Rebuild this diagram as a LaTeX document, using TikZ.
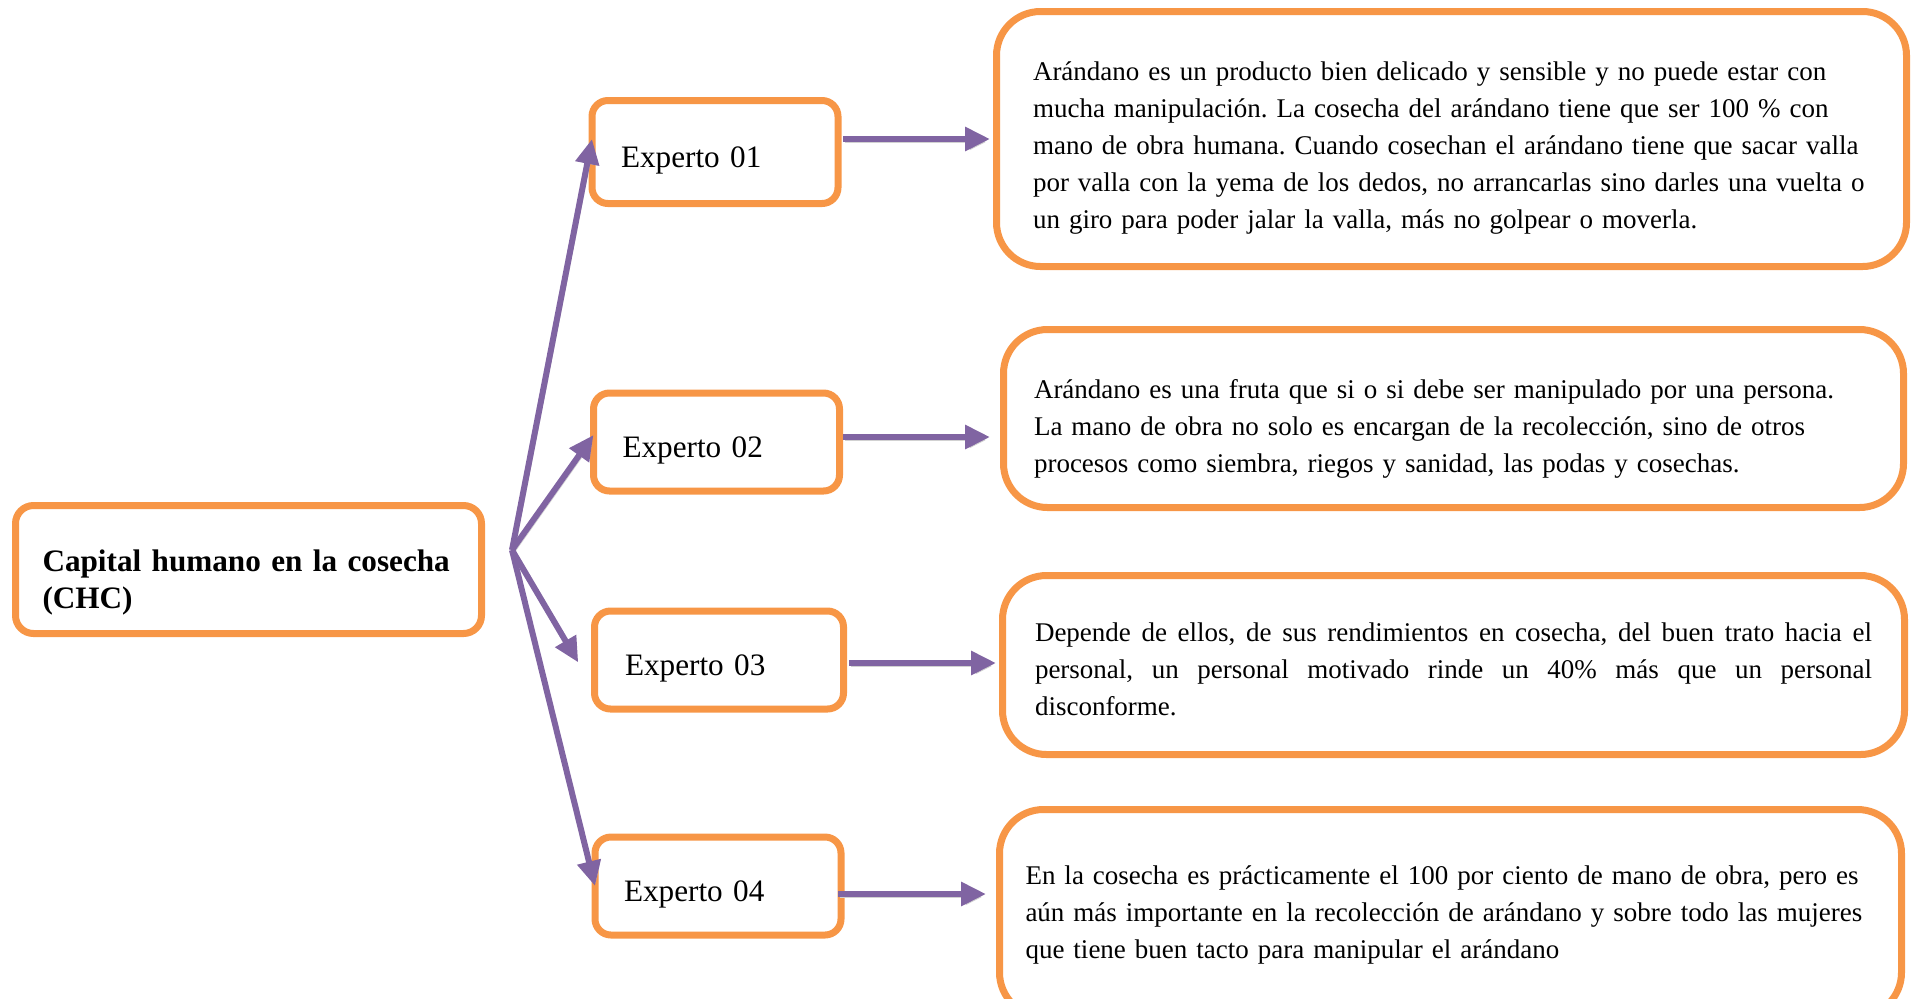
\documentclass[tikz,border=0pt]{standalone}
\usepackage{fontspec}
\setmainfont{Liberation Serif}
\usepackage{xcolor}
\usepackage{tikz}
\usetikzlibrary{arrows.meta}
\definecolor{boxorange}{HTML}{F79646}
\definecolor{linkpurple}{HTML}{8064A2}
\frenchspacing
\tikzset{
	chc node/.style={draw=boxorange,line width=3.5pt,fill=white,outer sep=0pt,rounded corners=9pt,
		minimum width=233pt,minimum height=64pt,text width=206pt,align=left,
		font=\fontsize{15.6}{18.5}\selectfont\bfseries,text height=23.5pt},
	expert node/.style={draw=boxorange,line width=3.5pt,fill=white,outer sep=0pt,rounded corners=8pt,
		minimum width=123pt,minimum height=49pt,text width=94pt,align=left,
		font=\fontsize{15.6}{18.5}\selectfont,text height=19pt},
	answer node/.style={draw=boxorange,line width=3.5pt,fill=white,outer sep=0pt,rounded corners=22pt,
		minimum width=451pt,align=left,font=\fontsize{13.5}{18.6}\selectfont},
	fan/.style={draw=linkpurple,line width=3pt,-{Triangle[length=12.5pt,width=11.5pt]},
		preaction={draw=black!18,transform canvas={xshift=1pt,yshift=-1.5pt}}},
	link/.style={draw=linkpurple,line width=3pt,-{Triangle[length=12.5pt,width=11.5pt]},
		preaction={draw=black!18,transform canvas={xshift=1pt,yshift=-1.5pt}}}
}

\begin{document}
\begin{tikzpicture}[x=0.5pt,y=-0.5pt]
	\useasboundingbox (0,0) rectangle (1912,998);
	\clip (0,0) rectangle (1912,998);

	\node [chc node] (chc) at (248.5,569.5) {Capital humano en la cosecha\\(CHC)};

	% expertos
	\node [expert node,minimum height=51.5pt] (E1) at (715,152) {Experto 01};
	\node [expert node] (E2) at (716.5,442) {Experto 02};
	\node [expert node,minimum width=124.5pt] (E3) at (719,660) {Experto 03};
	\node [expert node] (E4) at (718,886) {Experto 04};

	% respuestas
	\node [answer node,minimum width=455pt,minimum height=127.5pt,text width=418.5pt,text height=18.4pt] (R1) at (1451.5,139)
		{Arándano es un producto bien delicado y sensible y no puede estar con\\
		mucha manipulación. La cosecha del arándano tiene que ser 100 \% con\\
		mano de obra humana. Cuando cosechan el arándano tiene que sacar valla\\
		por valla con la yema de los dedos, no arrancarlas sino darles una vuelta o\\
		un giro para poder jalar la valla, más no golpear o moverla.};
	\node [answer node,minimum width=450pt,minimum height=89pt,text width=419.5pt,text height=20pt] (R2) at (1453.5,418.5)
		{Arándano es una fruta que si o si debe ser manipulado por una persona.\\
		La mano de obra no solo es encargan de la recolección, sino de otros\\
		procesos como siembra, riegos y sanidad, las podas y cosechas.};
	\node [answer node,minimum height=89.5pt,text width=418.5pt,align=justify,text height=13.5pt] (R3) at (1453.5,665)
		{Depende de ellos, de sus rendimientos en cosecha, del buen trato hacia el\linebreak
		personal, un personal motivado rinde un 40\% más que un personal\linebreak
		disconforme.};
	\node [answer node,minimum height=103.5pt,text width=425pt,text height=11.5pt] (R4) at (1450.5,913)
		{En la cosecha es prácticamente el 100 por ciento de mano de obra, pero es\\
		aún más importante en la recolección de arándano y sobre todo las mujeres\\
		que tiene buen tacto para manipular el arándano};

	% flechas
	\coordinate (hub) at (512,550);
	\draw [fan] (hub) -- ([yshift=6.5pt]E1.west);
	\draw [fan] (hub) -- ([yshift=3.5pt]E2.west);
	\draw [fan,shorten >=16pt] (hub) -- ([yshift=-15pt]E3.west);
	\draw [fan] (hub) -- (E4.west);

	\foreach \i/\dy/\sa/\sb in {1/6.5/2.5/3.25,2/2.5/1.75/6.75,3/-1.5/2.75/3.25,4/-4/-1.5/6.75}
		\draw [link,shorten <=\sa pt,shorten >=\sb pt] ([yshift=\dy pt]E\i.east) coordinate (s\i) -- (s\i -| R\i.west);
\end{tikzpicture}
\end{document}
